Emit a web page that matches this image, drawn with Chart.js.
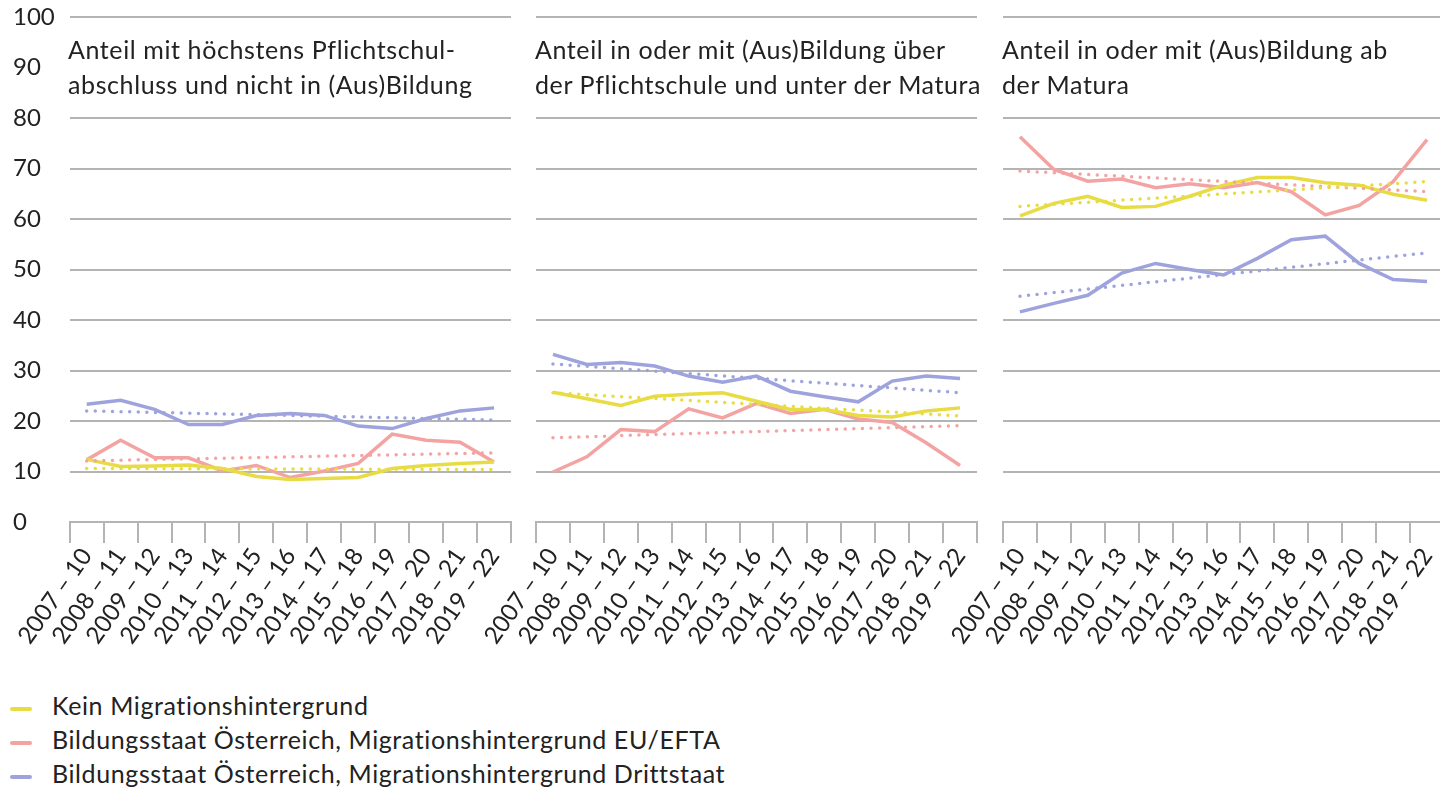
<!DOCTYPE html>
<html>
<head>
<meta charset="utf-8">
<script src="https://cdn.jsdelivr.net/npm/chart.js@4/dist/chart.umd.min.js"></script>
<style>
  html, body { margin: 0; padding: 0; background: #fff; overflow: hidden; }
  body { width: 1440px; height: 787px; position: relative; font-family: Lato, sans-serif; color: #222; }
  canvas { position: absolute; top: 0; }
  .title { position: absolute; top: 32px; font-size: 25px; letter-spacing: 0.6px; line-height: 35px; color: #222; white-space: nowrap; }
  .legend { position: absolute; left: 10px; top: 688px; font-size: 25px; letter-spacing: 0.6px; line-height: 34px; color: #222; }
  .legend div { white-space: nowrap; }
  .legend span { display: inline-block; width: 22px; height: 4px; margin-right: 20px; vertical-align: middle; border-radius: 2px; }
</style>
</head>
<body>
<canvas id="c1" width="513" height="660" style="left:0px"></canvas>
<canvas id="c2" width="533" height="660" style="left:445.7px"></canvas>
<canvas id="c3" width="533" height="660" style="left:912.7px"></canvas>

<div class="title" style="left:68px">Anteil mit höchstens Pflichtschul-<br>abschluss und nicht in (Aus)Bildung</div>
<div class="title" style="left:535px">Anteil in oder mit (Aus)Bildung über<br>der Pflichtschule und unter der Matura</div>
<div class="title" style="left:1002px">Anteil in oder mit (Aus)Bildung ab<br>der Matura</div>

<div class="legend">
  <div><span style="background:#e8dc45"></span>Kein Migrationshintergrund</div>
  <div><span style="background:#f4a3a3"></span>Bildungsstaat Österreich, Migrationshintergrund EU/EFTA</div>
  <div><span style="background:#9ea3dd"></span>Bildungsstaat Österreich, Migrationshintergrund Drittstaat</div>
</div>

<script>
// categories (3-year periods)
var periods = ['2007 – 10', '2008 – 11', '2009 – 12', '2010 – 13', '2011 – 14', '2012 – 15', '2013 – 16',
               '2014 – 17', '2015 – 18', '2016 – 19', '2017 – 20', '2018 – 21', '2019 – 22'];
var seriesNames = ['Kein Migrationshintergrund',
                   'Bildungsstaat Österreich, Migrationshintergrund EU/EFTA',
                   'Bildungsstaat Österreich, Migrationshintergrund Drittstaat'];

// Panel 1: höchstens Pflichtschulabschluss, nicht in (Aus)Bildung
var p1Kein  = [12.4, 11.0, 11.1, 11.3, 10.6, 9.0, 8.4, 8.6, 8.8, 10.6, 11.2, 11.6, 11.9];
var p1EU    = [12.3, 16.2, 12.7, 12.7, 10.1, 11.2, 8.8, 10.1, 11.6, 17.4, 16.2, 15.8, 11.9];
var p1Dritt = [23.3, 24.1, 22.3, 19.3, 19.3, 21.1, 21.5, 21.1, 19.0, 18.5, 20.5, 22.0, 22.6];
// trend lines: value at first and last period
var p1KeinTrend  = [10.6, 10.4];
var p1EUTrend    = [12.1, 13.7];
var p1DrittTrend = [22.0, 20.2];

// Panel 2: über Pflichtschule, unter Matura
var p2Kein  = [25.7, 24.4, 23.1, 24.9, 25.3, 25.6, 23.9, 22.3, 22.3, 21.1, 20.8, 22.0, 22.6];
var p2EU    = [9.9, 12.9, 18.3, 17.9, 22.4, 20.6, 23.5, 21.5, 22.3, 20.4, 19.7, 15.7, 11.2];
var p2Dritt = [33.2, 31.2, 31.6, 30.9, 28.9, 27.7, 28.9, 25.9, 24.8, 23.8, 27.9, 28.9, 28.4];
var p2KeinTrend  = [25.6, 21.0];
var p2EUTrend    = [16.7, 19.1];
var p2DrittTrend = [31.3, 25.6];

// Panel 3: ab Matura
var p3Kein  = [60.6, 63.1, 64.5, 62.3, 62.5, 64.5, 66.7, 68.2, 68.2, 67.2, 66.7, 64.9, 63.7];
var p3EU    = [76.3, 69.8, 67.5, 67.9, 66.2, 67.0, 66.2, 67.2, 65.4, 60.8, 62.7, 67.4, 75.7];
var p3Dritt = [41.6, 43.3, 44.9, 49.3, 51.2, 50.0, 48.9, 52.2, 55.9, 56.6, 51.2, 48.0, 47.6];
var p3KeinTrend  = [62.5, 67.4];
var p3EUTrend    = [69.5, 65.4];
var p3DrittTrend = [44.7, 53.3];

var yTickValues = [0, 10, 20, 30, 40, 50, 60, 70, 80, 90, 100];

var colors = ['#e8dc45', '#f4a3a3', '#9ea3dd'];
var FONT = { family: 'Lato, sans-serif', size: 24 };
var GRID = '#b4b4b4';

function lineSet(label, values, color) {
    return {
        label: label,
        data: values,
        borderColor: color,
        backgroundColor: color,
        borderWidth: 3.5,
        pointRadius: 0,
        tension: 0,
        fill: false
    };
}

function trendSet(label, ends, color) {
    return {
        label: label + ' (Trend)',
        data: [{ x: periods[0], y: ends[0] }, { x: periods[periods.length - 1], y: ends[1] }],
        borderColor: color,
        backgroundColor: color,
        borderWidth: 3.5,
        borderDash: [0, 8.6],
        borderCapStyle: 'round',
        pointRadius: 0,
        spanGaps: true,
        fill: false
    };
}

function makePanel(id, series, trends, opt) {
    var datasets = [];
    for (var i = 0; i < 3; i++) datasets.push(trendSet(seriesNames[i], trends[i], colors[i]));
    for (var j = 0; j < 3; j++) datasets.push(lineSet(seriesNames[j], series[j], colors[j]));

    return new Chart(document.getElementById(id), {
        type: 'line',
        data: { labels: periods, datasets: datasets },
        options: {
            responsive: false,
            animation: false,
            layout: { autoPadding: false, padding: { left: opt.padLeft, right: 2, top: 17, bottom: 0 } },
            plugins: { legend: { display: false }, tooltip: { enabled: false } },
            scales: {
                x: {
                    type: 'category',
                    offset: true,
                    grid: { offset: true, drawOnChartArea: false, drawTicks: true, tickLength: 21, color: GRID, lineWidth: 2 },
                    border: { display: true, color: GRID, width: 2 },
                    ticks: { autoSkip: false, minRotation: 55, maxRotation: 55, padding: 0, color: '#222', font: FONT },
                    afterFit: function (s) {
                        s.height = 138;
                        s.paddingLeft = 0; s.paddingRight = 0;
                    }
                },
                y: {
                    min: 0,
                    max: 100,
                    afterBuildTicks: function (s) { s.ticks = yTickValues.map(function (v) { return { value: v }; }); },
                    grid: {
                        drawTicks: false,
                        lineWidth: 2,
                        color: function (ctx) {
                            var v = ctx.tick && ctx.tick.value;
                            return (v === 90 || v === 0) ? 'rgba(0,0,0,0)' : GRID;
                        }
                    },
                    border: { display: false },
                    ticks: { display: opt.showY, crossAlign: 'far', color: '#222', font: FONT, padding: 0 },
                    afterFit: function (s) {
                        s.width = opt.yWidth;
                        s.paddingTop = 0; s.paddingBottom = 0;
                    }
                }
            }
        }
    });
}

makePanel('c1', [p1Kein, p1EU, p1Dritt], [p1KeinTrend, p1EUTrend, p1DrittTrend], { padLeft: 13, yWidth: 56.7, showY: true });
makePanel('c2', [p2Kein, p2EU, p2Dritt], [p2KeinTrend, p2EUTrend, p2DrittTrend], { padLeft: 80, yWidth: 10, showY: false });
makePanel('c3', [p3Kein, p3EU, p3Dritt], [p3KeinTrend, p3EUTrend, p3DrittTrend], { padLeft: 80, yWidth: 10, showY: false });
</script>
</body>
</html>
